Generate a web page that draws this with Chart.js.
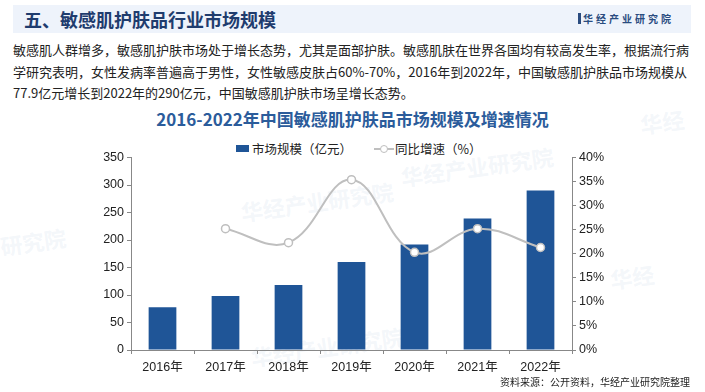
<!DOCTYPE html>
<html><head><meta charset="utf-8">
<script src="https://cdn.jsdelivr.net/npm/chart.js@4/dist/chart.umd.min.js"></script>
<style>
html,body{margin:0;padding:0;background:#fff;}
body{width:705px;height:392px;position:relative;overflow:hidden;font-family:"Noto Sans CJK SC","Liberation Sans",sans-serif;}
.band{position:absolute;left:13px;top:5px;width:678px;height:28px;background:#eef3fb;}
.h1{position:absolute;left:24px;top:5px;font-size:18px;font-weight:bold;color:#1f3c6e;line-height:28px;white-space:nowrap;}
.logo{position:absolute;left:578px;top:5px;line-height:28px;font-size:10px;font-weight:bold;color:#2a4c80;letter-spacing:3px;white-space:nowrap;}
.logo i{display:inline-block;width:3px;height:11px;background:#2a4c80;margin-right:2px;vertical-align:-1px;}
.para{position:absolute;left:13px;top:39px;font-size:13px;line-height:21.5px;color:#222;white-space:nowrap;letter-spacing:0px;}
.title{position:absolute;left:0;width:705px;top:106px;text-align:center;font-size:17px;font-weight:bold;color:#2b5c9b;line-height:26px;white-space:nowrap;}
.legend{position:absolute;top:138px;left:236px;font-size:12.5px;color:#222;line-height:18px;white-space:nowrap;}
.legend span{display:inline-block;vertical-align:middle;}
.box{width:13px;height:7px;background:#1f5597;margin-right:3px;}
.ln{position:relative;width:20px;height:2px;background:#bfbfbf;margin-left:22px;margin-right:1px;}
.ln:after{content:"";position:absolute;left:6px;top:-3px;width:6px;height:6px;border-radius:50%;border:1px solid #bfbfbf;background:#fff;}
.src{position:absolute;right:15px;top:374px;font-size:10px;color:#222;white-space:nowrap;}
.wm{position:absolute;font-size:22px;font-weight:bold;color:rgba(190,205,228,0.18);white-space:nowrap;transform:rotate(-8deg);}
#wrap{position:absolute;left:0;top:147px;width:705px;height:233px;}
</style></head>
<body>
<div class="band"></div>
<div class="h1">五、敏感肌护肤品行业市场规模</div>
<div class="logo"><i></i>华经产业研究院</div>
<div class="para">敏感肌人群增多，敏感肌护肤市场处于增长态势，尤其是面部护肤。敏感肌肤在世界各国均有较高发生率，根据流行病<br>学研究表明，女性发病率普遍高于男性，女性敏感皮肤占60%-70%，2016年到2022年，中国敏感肌护肤品市场规模从<br>77.9亿元增长到2022年的290亿元，中国敏感肌护肤市场呈增长态势。</div>
<div class="title">2016-2022年中国敏感肌护肤品市场规模及增速情况</div>
<div class="legend"><span class="box"></span><span>市场规模（亿元）</span><span class="ln"></span><span>同比增速（%）</span></div>
<div class="wm" style="left:240px;top:185px">华经产业研究院</div>
<div class="wm" style="left:400px;top:150px">华经产业研究院</div>
<div class="wm" style="left:250px;top:330px">华经产业研究院</div>
<div class="wm" style="left:640px;top:105px">华经</div>
<div class="wm" style="left:0px;top:225px">研究院</div>
<div class="wm" style="left:610px;top:260px">华经</div>
<div id="wrap"><canvas id="c"></canvas></div>
<div class="src">资料来源：公开资料，华经产业研究院整理</div>
<script>
const categories = ["2016年","2017年","2018年","2019年","2020年","2021年","2022年"];
const marketSize = [77.9, 98, 118, 160, 192, 239, 290];
const growthRate = [null, 25.2, 22.3, 35.4, 20.3, 25.2, 21.3];
const leftTicks = [0,50,100,150,200,250,300,350];
const rightTicks = [0,5,10,15,20,25,30,35,40];

const tickFont = {family:"'Liberation Sans','Noto Sans CJK SC',sans-serif", size:12.5};
new Chart(document.getElementById('c'), {
  data: {
    labels: categories,
    datasets: [
      {type:'line', label:'同比增速（%）', data: growthRate, yAxisID:'y1', order:0,
       borderColor:'#bfbfbf', borderWidth:2, tension:0.4, fill:false,
       pointRadius:4, pointBackgroundColor:'#fff', pointBorderColor:'#bfbfbf', pointBorderWidth:1.5, spanGaps:false},
      {type:'bar', label:'市场规模（亿元）', data: marketSize, yAxisID:'y', order:1,
       backgroundColor:'#1f5597', barPercentage:0.44, categoryPercentage:1}
    ]
  },
  options: {
    responsive:true, maintainAspectRatio:false, animation:false,
    layout:{padding:{top:4,left:0,right:0,bottom:0}},
    plugins:{legend:{display:false}, tooltip:{enabled:false}},
    scales:{
      x:{ grid:{display:true, drawOnChartArea:false, offset:true, color:'#888', tickLength:4},
          border:{display:true,color:'#888',width:1},
          ticks:{color:'#222', font:tickFont, padding:6},
          afterFit:(s)=>{s.height=30;} },
      y:{ position:'left', min:0, max:350, afterBuildTicks:(s)=>{s.ticks=leftTicks.map(v=>({value:v}));},
          grid:{display:true, drawOnChartArea:false, color:'#888', tickLength:4},
          border:{display:true,color:'#888',width:1},
          ticks:{color:'#222', font:tickFont, padding:3},
          afterFit:(s)=>{s.width=131;} },
      y1:{ position:'right', min:0, max:40, afterBuildTicks:(s)=>{s.ticks=rightTicks.map(v=>({value:v}));},
          grid:{display:true, drawOnChartArea:false, color:'#888', tickLength:4},
          border:{display:true,color:'#888',width:1},
          ticks:{color:'#222', font:tickFont, padding:3, callback:(v)=>v+'%'},
          afterFit:(s)=>{s.width=133;} }
    }
  }
});
</script>
</body></html>
